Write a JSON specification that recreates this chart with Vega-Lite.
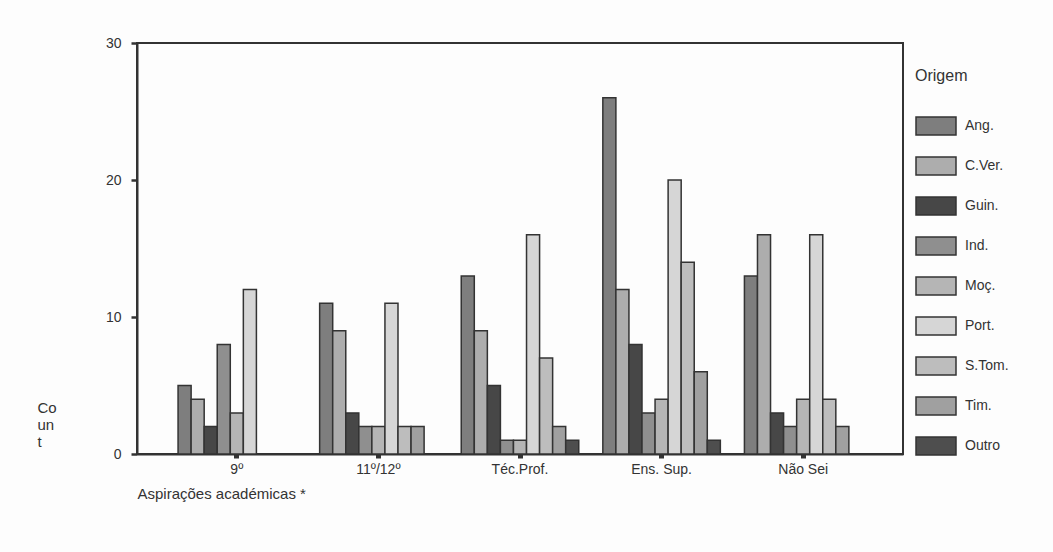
{
  "$schema": "https://vega.github.io/schema/vega-lite/v6.json",
  "autosize": "none",
  "width": 766,
  "height": 411,
  "padding": {"left": 137, "top": 43, "right": 150, "bottom": 98},
  "background": "#fdfdfd",
  "config": {
    "font": "Liberation Sans",
    "view": {"stroke": "#333", "strokeWidth": 2},
    "axis": {"grid": false, "domainColor": "#333", "domainWidth": 2, "tickColor": "#333", "labelColor": "#333", "titleColor": "#333", "labelFont": "Liberation Sans", "titleFont": "Liberation Sans"},
    "legend": {"labelFont": "Liberation Sans", "titleFont": "Liberation Sans"}
  },
  "data": {
    "values": [
      {"asp": "9º", "orig": "Ang.", "n": 5},
      {"asp": "9º", "orig": "C.Ver.", "n": 4},
      {"asp": "9º", "orig": "Guin.", "n": 2},
      {"asp": "9º", "orig": "Ind.", "n": 8},
      {"asp": "9º", "orig": "Moç.", "n": 3},
      {"asp": "9º", "orig": "Port.", "n": 12},
      {"asp": "9º", "orig": "S.Tom.", "n": 0},
      {"asp": "9º", "orig": "Tim.", "n": 0},
      {"asp": "9º", "orig": "Outro", "n": 0},
      {"asp": "11º/12º", "orig": "Ang.", "n": 11},
      {"asp": "11º/12º", "orig": "C.Ver.", "n": 9},
      {"asp": "11º/12º", "orig": "Guin.", "n": 3},
      {"asp": "11º/12º", "orig": "Ind.", "n": 2},
      {"asp": "11º/12º", "orig": "Moç.", "n": 2},
      {"asp": "11º/12º", "orig": "Port.", "n": 11},
      {"asp": "11º/12º", "orig": "S.Tom.", "n": 2},
      {"asp": "11º/12º", "orig": "Tim.", "n": 2},
      {"asp": "11º/12º", "orig": "Outro", "n": 0},
      {"asp": "Téc.Prof.", "orig": "Ang.", "n": 13},
      {"asp": "Téc.Prof.", "orig": "C.Ver.", "n": 9},
      {"asp": "Téc.Prof.", "orig": "Guin.", "n": 5},
      {"asp": "Téc.Prof.", "orig": "Ind.", "n": 1},
      {"asp": "Téc.Prof.", "orig": "Moç.", "n": 1},
      {"asp": "Téc.Prof.", "orig": "Port.", "n": 16},
      {"asp": "Téc.Prof.", "orig": "S.Tom.", "n": 7},
      {"asp": "Téc.Prof.", "orig": "Tim.", "n": 2},
      {"asp": "Téc.Prof.", "orig": "Outro", "n": 1},
      {"asp": "Ens. Sup.", "orig": "Ang.", "n": 26},
      {"asp": "Ens. Sup.", "orig": "C.Ver.", "n": 12},
      {"asp": "Ens. Sup.", "orig": "Guin.", "n": 8},
      {"asp": "Ens. Sup.", "orig": "Ind.", "n": 3},
      {"asp": "Ens. Sup.", "orig": "Moç.", "n": 4},
      {"asp": "Ens. Sup.", "orig": "Port.", "n": 20},
      {"asp": "Ens. Sup.", "orig": "S.Tom.", "n": 14},
      {"asp": "Ens. Sup.", "orig": "Tim.", "n": 6},
      {"asp": "Ens. Sup.", "orig": "Outro", "n": 1},
      {"asp": "Não Sei", "orig": "Ang.", "n": 13},
      {"asp": "Não Sei", "orig": "C.Ver.", "n": 16},
      {"asp": "Não Sei", "orig": "Guin.", "n": 3},
      {"asp": "Não Sei", "orig": "Ind.", "n": 2},
      {"asp": "Não Sei", "orig": "Moç.", "n": 4},
      {"asp": "Não Sei", "orig": "Port.", "n": 16},
      {"asp": "Não Sei", "orig": "S.Tom.", "n": 4},
      {"asp": "Não Sei", "orig": "Tim.", "n": 2},
      {"asp": "Não Sei", "orig": "Outro", "n": 0}
    ]
  },
  "transform": [{"filter": "datum.n > 0"}],
  "mark": {"type": "bar", "stroke": "#333", "strokeWidth": 1.5},
  "encoding": {
    "x": {
      "field": "asp", "type": "nominal",
      "sort": ["9º", "11º/12º", "Téc.Prof.", "Ens. Sup.", "Não Sei"],
      "scale": {"paddingInner": 0.17, "paddingOuter": 0.29},
      "axis": {
        "title": "Aspirações académicas *",
        "titleFontSize": 15, "titleFontWeight": "normal",
        "titleAnchor": "start", "titleAlign": "left", "titleX": 0, "titleY": 32,
        "labelAngle": 0, "labelFontSize": 14, "labelPadding": 4,
        "tickSize": 4, "tickWidth": 5, "domainWidth": 2
      }
    },
    "xOffset": {
      "field": "orig", "type": "nominal",
      "sort": ["Ang.", "C.Ver.", "Guin.", "Ind.", "Moç.", "Port.", "S.Tom.", "Tim.", "Outro"],
      "scale": {"domain": ["Ang.", "C.Ver.", "Guin.", "Ind.", "Moç.", "Port.", "S.Tom.", "Tim.", "Outro"], "paddingInner": 0, "paddingOuter": 0}
    },
    "y": {
      "field": "n", "type": "quantitative",
      "scale": {"domain": [0, 30], "nice": false},
      "axis": {
        "values": [0, 10, 20, 30],
        "title": ["Co", "un", "t"],
        "titleAngle": 0, "titleFontSize": 15, "titleFontWeight": "normal",
        "titleAlign": "left", "titleBaseline": "top", "titleX": -100, "titleY": 357,
        "titleLineHeight": 17,
        "labelFontSize": 14, "labelPadding": 10,
        "tickSize": 6, "tickWidth": 2.5
      }
    },
    "color": {
      "field": "orig", "type": "nominal",
      "scale": {
        "domain": ["Ang.", "C.Ver.", "Guin.", "Ind.", "Moç.", "Port.", "S.Tom.", "Tim.", "Outro"],
        "range": ["#7e7e7e", "#adadad", "#474747", "#8f8f8f", "#b5b5b5", "#d6d6d6", "#bdbdbd", "#a0a0a0", "#4e4e4e"]
      },
      "legend": {
        "title": "Origem",
        "orient": "none", "legendX": 778, "legendY": 25,
        "titleFontSize": 16, "titleFontWeight": "normal", "titleColor": "#333", "titlePadding": 21,
        "labelFontSize": 14, "labelColor": "#333", "labelOffset": 8,
        "symbolType": "M-1,-0.45H1V0.45H-1Z", "symbolSize": 1600,
        "symbolStrokeColor": "#333", "symbolStrokeWidth": 1.5, "symbolOpacity": 1,
        "rowPadding": 7
      }
    }
  }
}
